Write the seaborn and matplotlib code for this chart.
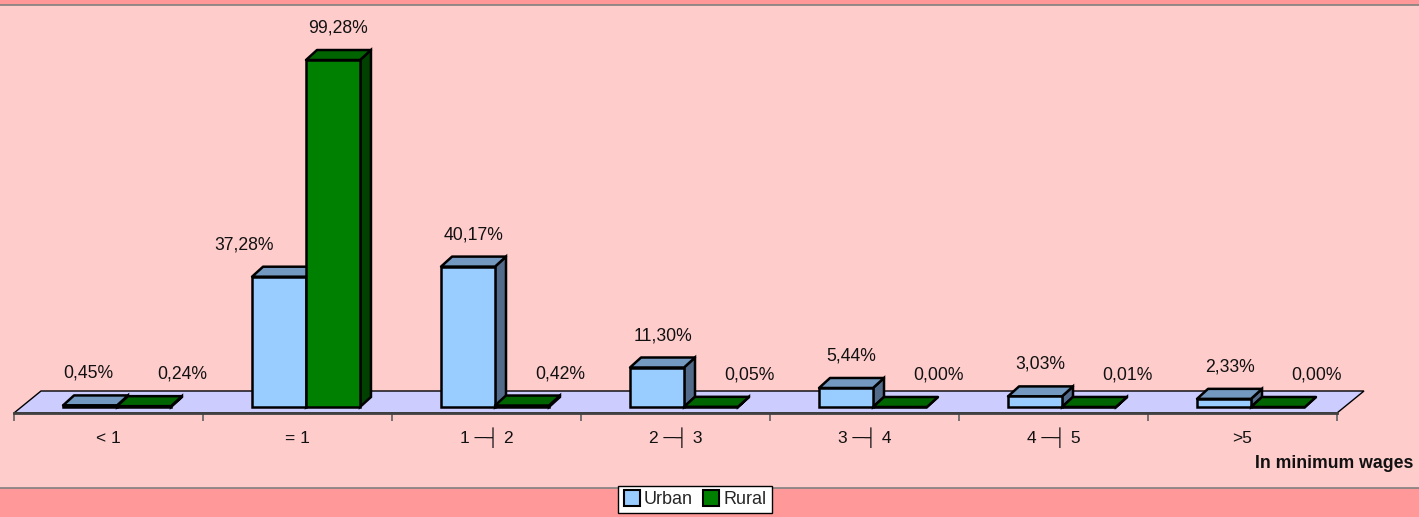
import numpy as np
import pandas as pd
import seaborn as sns
import matplotlib.pyplot as plt
from matplotlib.patches import Polygon, Rectangle
from matplotlib.lines import Line2D

categories = ["< 1", "= 1", "1 ─┤ 2", "2 ─┤ 3", "3 ─┤ 4", "4 ─┤ 5", ">5"]
urban = [0.45, 37.28, 40.17, 11.30, 5.44, 3.03, 2.33]
rural = [0.24, 99.28, 0.42, 0.05, 0.00, 0.01, 0.00]
groups = ["Urban", "Rural"]

data = pd.DataFrame({
    "category": categories * 2,
    "group": ["Urban"] * len(categories) + ["Rural"] * len(categories),
    "value": urban + rural,
})

sns.set_theme(style="white")
plt.rcParams["font.family"] = ["Liberation Sans", "DejaVu Sans"]

W, H = 1419, 517
fig = plt.figure(figsize=(W / 100, H / 100), dpi=100)
fig.patch.set_facecolor("#FF9999")
# plot area band
fig.patches.append(Rectangle((-0.01, 29 / H), 1.02, (H - 29 - 5) / H, transform=fig.transFigure,
                             facecolor="#FFCCCC", edgecolor="#808080", linewidth=1.2, zorder=-5))

# axes: front floor edge at y=413px, spans x 14..1337px; 100% at y=57.5px
ax = fig.add_axes([14 / W, (H - 413) / H, 1323 / W, (413 - 57.5) / H])
ax.set_facecolor("none")

front = {"Urban": "#99CCFF", "Rural": "#008000"}
top = {"Urban": "#7399C0", "Rural": "#006400"}
side = {"Urban": "#526B8A", "Rural": "#004000"}

sns.barplot(data=data, x="category", y="value", hue="group", hue_order=groups,
            palette=front, width=0.571, edgecolor="black", linewidth=1.8,
            saturation=1, legend=False, ax=ax, zorder=3)

ax.set_xlim(-0.545, 6.455)
ax.set_ylim(-1.717, 100)

px_x = 1 / 189.0       # data units per pixel (x)
px_y = 100 / 349.5     # data units per pixel (y)
dx, dy = 11 * px_x, 10 * px_y

# floor
fdx, fdy = 27 * px_x, 22 * px_y
x0, x1, y0 = -0.545, 6.455, -1.717
ax.add_patch(Polygon([(x0, y0), (x1, y0), (x1 + fdx, y0 + fdy), (x0 + fdx, y0 + fdy)],
                     closed=True, facecolor="#CCCCFF", edgecolor="black",
                     linewidth=1, zorder=1, clip_on=False))

# 3D faces and labels
for gi, (grp, cont) in enumerate(zip(groups, ax.containers)):
    z = 3 + gi
    vals = urban if grp == "Urban" else rural
    for ci, bar in enumerate(cont):
        bar.set_zorder(z + 0.2)
        bx, bw, bh = bar.get_x(), bar.get_width(), bar.get_height()
        ax.add_patch(Polygon([(bx + bw, 0), (bx + bw + dx, dy), (bx + bw + dx, bh + dy), (bx + bw, bh)],
                             closed=True, facecolor=side[grp], edgecolor="black",
                             linewidth=1.8, zorder=z, clip_on=False))
        ax.add_patch(Polygon([(bx, bh), (bx + dx, bh + dy), (bx + bw + dx, bh + dy), (bx + bw, bh)],
                             closed=True, facecolor=top[grp], edgecolor="black",
                             linewidth=1.8, zorder=z + 0.1, clip_on=False, joinstyle="round"))
        # label nudges where Excel moved labels to avoid overlaps
        lx = bx + bw / 2 + dx / 2
        if grp == "Rural" and vals[ci] < 1:
            lx += 33 * px_x
        if grp == "Urban" and rural[ci] > urban[ci]:
            lx -= 40 * px_x
        if grp == "Urban" and ci == 0:
            lx -= 7 * px_x
        ly = bh + dy + 22 * px_y
        ax.text(lx, ly, f"{vals[ci]:.2f}%".replace(".", ","), ha="center", va="center",
                fontsize=12.7, color="#111111", zorder=10, clip_on=False)

# axis / ticks
for s in ["top", "right", "left"]:
    ax.spines[s].set_visible(False)
ax.spines["bottom"].set_color("#404040")
ax.spines["bottom"].set_linewidth(2)
ax.spines["bottom"].set_zorder(2)
ax.set_yticks([])
ax.set_xticks(np.arange(-0.545, 6.5, 1.0))
ax.set_xticklabels([])
ax.set_xticks(np.arange(len(categories)) - 0.045, minor=True)
ax.set_xticklabels(categories, minor=True, fontsize=12.5, color="#111111")
for lab in ax.get_xticklabels(minor=True):
    lab.set_va("baseline")
ax.tick_params(axis="x", which="major", length=6, width=1.2, color="#606060", direction="out", bottom=True)
ax.tick_params(axis="x", which="minor", length=0, pad=21.5)
ax.set_xlabel("")
ax.set_ylabel("")

fig.text(1413 / W, 1 - 464 / H, "In minimum wages", ha="right", va="center",
         fontsize=12.7, fontweight="bold", color="#111111")

handles = [Line2D([], [], marker="s", linestyle="none", markersize=11,
                  markerfacecolor=front[g], markeredgecolor="black", markeredgewidth=1.5)
           for g in groups]
leg = fig.legend(handles, groups, loc="center", bbox_to_anchor=(695 / W, 1 - 499.5 / H),
                 ncol=2, frameon=True, fontsize=13, handletextpad=0.2, columnspacing=0.6,
                 handlelength=0.9, borderpad=0.3, fancybox=False, borderaxespad=0,
                 framealpha=1)
leg.get_frame().set_edgecolor("black")
leg.get_frame().set_facecolor("white")
leg.get_frame().set_linewidth(1)

fig.savefig("out.png", dpi=100, facecolor=fig.get_facecolor())
